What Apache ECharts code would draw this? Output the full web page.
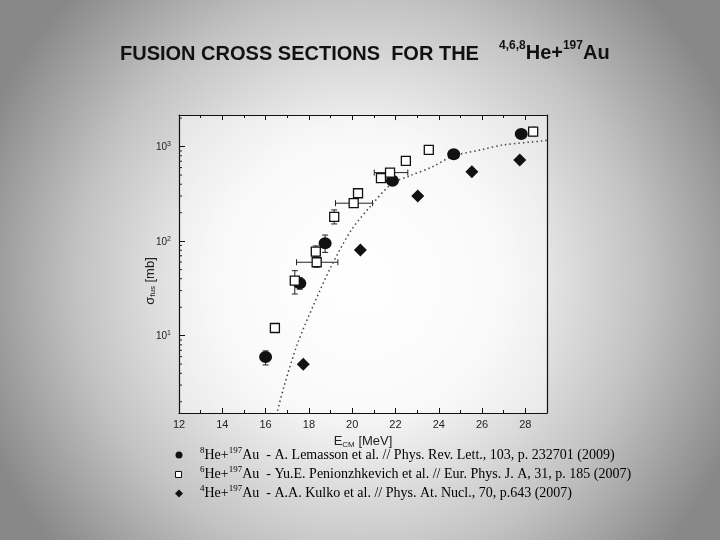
<!DOCTYPE html>
<html><head><meta charset="utf-8">
<script src="https://cdn.jsdelivr.net/npm/echarts@6/dist/echarts.min.js"></script>
<style>html,body{margin:0;padding:0;}#c{width:720px;height:540px;}</style>
</head><body><div id="c"></div>
<script>
// ---- data ----
const xTickLabels = [12, 14, 16, 18, 20, 22, 24, 26, 28];
const yTickLabels = [10, 100, 1000];
const yMinorTicks = [2,3,4,5,6,7,8,9,20,30,40,50,60,70,80,90,200,300,400,500,600,700,800,900,2000];
// 8He + 197Au (Lemasson)
const he8 = [[16.0,5.95],[17.58,35.8],[18.75,95],[21.86,436],[24.69,831],[27.81,1362]];
const he8ErrY = [[16.0,4.9,6.9],[17.58,31,41],[18.75,76,116],[21.86,400,475],[24.69,790,880],[27.81,1280,1450]];
// 6He + 197Au (Penionzhkevich)
const he6 = [[16.43,12.05],[17.35,38.2],[18.36,59.8],[18.32,77.4],[19.17,181],[20.07,252],[20.27,321],[21.33,464],[21.75,531],[22.48,707],[23.54,923],[28.36,1443]];
const he6ErrY = [[17.35,27.6,48.7],[18.36,53,66],[18.32,69,89],[19.17,152,214],[28.36,1300,1600]];
const he6ErrX = [[59.8,17.43,19.34],[252,19.23,20.94],[531,21.02,22.57]];
// 4He + 197Au (Kulko)
const he4 = [[17.74,4.98],[20.38,80.8],[23.03,300],[25.53,543],[27.74,723]];
// theoretical curve (dotted)
const theory = [[16.45,1.3],[16.85,2.9],[17.48,8.3],[18.25,22],[19.03,54],[19.96,131],[20.89,240],[21.83,405],[22.7,495],[23.7,610],[24.63,790],[26.0,930],[26.96,1040],[28.82,1150],[29.0,1165]];

const xMin = 12, xMax = 29, yMin = 1.52, yMax = 2160;

const chart = echarts.init(document.getElementById('c'));

function vErr(params, api) {
  const x = api.value(0), lo = api.value(1), hi = api.value(2);
  const p1 = api.coord([x, lo]), p2 = api.coord([x, hi]);
  const c = 3, st = {stroke:'#222', lineWidth:1};
  return {type:'group', children:[
    {type:'line', shape:{x1:p1[0],y1:p1[1],x2:p2[0],y2:p2[1]}, style:st},
    {type:'line', shape:{x1:p1[0]-c,y1:p1[1],x2:p1[0]+c,y2:p1[1]}, style:st},
    {type:'line', shape:{x1:p2[0]-c,y1:p2[1],x2:p2[0]+c,y2:p2[1]}, style:st}
  ]};
}
function hErr(params, api) {
  const y = api.value(0), lo = api.value(1), hi = api.value(2);
  const p1 = api.coord([lo, y]), p2 = api.coord([hi, y]);
  const c = 3, st = {stroke:'#222', lineWidth:1};
  return {type:'group', children:[
    {type:'line', shape:{x1:p1[0],y1:p1[1],x2:p2[0],y2:p2[1]}, style:st},
    {type:'line', shape:{x1:p1[0],y1:p1[1]-c,x2:p1[0],y2:p1[1]+c}, style:st},
    {type:'line', shape:{x1:p2[0],y1:p2[1]-c,x2:p2[0],y2:p2[1]+c}, style:st}
  ]};
}
function minorTick(params, api) {
  const p = api.coord([api.value(0), api.value(1)]);
  return {type:'line', shape:{x1:p[0],y1:p[1],x2:p[0]+3,y2:p[1]}, style:{stroke:'#222', lineWidth:1}};
}

const legendRich = {
  t:{fontFamily:'Liberation Serif', fontSize:14, color:'#111', verticalAlign:'bottom', lineHeight:16},
  s:{fontFamily:'Liberation Serif', fontSize:9, color:'#111', verticalAlign:'top', lineHeight:9}
};

const option = {
  backgroundColor: {
    type:'radial', x:0.5, y:0.52, r:0.75,
    colorStops:[{offset:0,color:'#ffffff'},{offset:0.35,color:'#f4f4f4'},{offset:0.7,color:'#c2c2c2'},{offset:1,color:'#888888'}]
  },
  animation:false,
  grid:{left:179, right:173, top:115, bottom:127, show:true, backgroundColor:'rgba(255,255,255,0.45)', borderWidth:0},
  xAxis:[{
    type:'value', min:xMin, max:xMax, interval:2,
    axisLine:{lineStyle:{color:'#111', width:1.2}},
    axisTick:{inside:true, length:5, lineStyle:{color:'#111'}},
    minorTick:{show:true, splitNumber:2, length:3, lineStyle:{color:'#111'}},
    splitLine:{show:false},
    axisLabel:{color:'#222', fontFamily:'Liberation Sans', fontSize:11, margin:6, showMaxLabel:false,
      formatter: v => xTickLabels.includes(v) ? String(v) : ''},
    name:'E{s|CM} [MeV]', nameLocation:'middle', nameGap:16,
    nameTextStyle:{color:'#222', fontFamily:'Liberation Sans', fontSize:13,
      rich:{s:{fontSize:8, verticalAlign:'bottom', lineHeight:14, color:'#222'}}}
  },{
    type:'value', position:'top', min:xMin, max:xMax, interval:2,
    axisLine:{lineStyle:{color:'#111', width:1.2}},
    axisTick:{inside:true, length:5, lineStyle:{color:'#111'}},
    minorTick:{show:true, splitNumber:2, length:3, lineStyle:{color:'#111'}},
    splitLine:{show:false}, axisLabel:{show:false}
  }],
  yAxis:[{
    type:'log', logBase:10, min:yMin, max:yMax,
    axisLine:{show:true, lineStyle:{color:'#111', width:1.2}},
    axisTick:{inside:true, length:6, lineStyle:{color:'#111'}},
    splitLine:{show:false},
    axisLabel:{color:'#222', fontFamily:'Liberation Sans', fontSize:10, margin:8, showMinLabel:false, showMaxLabel:false,
      formatter: v => {
        const e = Math.round(Math.log10(v));
        return yTickLabels.some(t => Math.abs(t - v) / t < 1e-6) ? '{b|10}{s|' + e + '}' : '';
      },
      rich:{b:{fontSize:10, verticalAlign:'bottom', lineHeight:12, color:'#222'}, s:{fontSize:7, verticalAlign:'top', lineHeight:7, color:'#222'}}}
  },{
    type:'log', logBase:10, min:yMin, max:yMax, position:'right',
    axisLine:{show:true, lineStyle:{color:'#111', width:1.2}},
    axisTick:{show:false}, axisLabel:{show:false}, splitLine:{show:false}
  }],
  series:[
    {type:'line', data:theory, showSymbol:false, symbol:'none', smooth:0.3, silent:true,
      lineStyle:{color:'#444', width:1.5, type:[1.5,3]}},
    {type:'custom', renderItem:minorTick, data:yMinorTicks.map(v => [xMin, v]), encode:{x:0, y:1}, silent:true, clip:false},
    {type:'custom', renderItem:vErr, data:he8ErrY, encode:{x:0, y:[1,2]}, silent:true, z:3},
    {type:'custom', renderItem:vErr, data:he6ErrY, encode:{x:0, y:[1,2]}, silent:true, z:3},
    {type:'custom', renderItem:hErr, data:he6ErrX, encode:{y:0, x:[1,2]}, silent:true, z:3},
    {name:'8He', type:'scatter', data:he8, symbol:'circle', symbolSize:[13,12], itemStyle:{color:'#111', opacity:1}, z:5},
    {name:'6He', type:'scatter', data:he6, symbol:'rect', symbolSize:9, itemStyle:{color:'#fff', borderColor:'#111', borderWidth:1.3, opacity:1}, z:5},
    {name:'4He', type:'scatter', data:he4, symbol:'diamond', symbolSize:[13,13], itemStyle:{color:'#111', opacity:1}, z:5}
  ],
  graphic:[
    {type:'text', left:120, top:44, style:{text:'FUSION CROSS SECTIONS  FOR THE', font:'bold 20px "Liberation Sans"', fill:'#111'}},
    {type:'text', left:499, top:40, style:{text:'{s|4,6,8}{b|He+}{s|197}{b|Au}', fill:'#111',
      rich:{b:{font:'bold 20px "Liberation Sans"', verticalAlign:'bottom', lineHeight:23, fill:'#111'},
            s:{font:'bold 12px "Liberation Sans"', verticalAlign:'top', lineHeight:12, fill:'#111'}}}},
    {type:'text', x:150, y:281, rotation:Math.PI/2, style:{text:'σ{s|fus} [mb]', align:'center', verticalAlign:'middle',
      font:'13px "Liberation Sans"', fill:'#222', rich:{s:{fontSize:8, verticalAlign:'bottom', lineHeight:14}}}},
    {type:'circle', shape:{cx:179, cy:455, r:3.5}, style:{fill:'#111'}},
    {type:'rect', shape:{x:175.5, y:471.5, width:6, height:6}, style:{fill:'#fff', stroke:'#111', lineWidth:1}},
    {type:'polygon', shape:{points:[[179,489.5],[183,493.5],[179,497.5],[175,493.5]]}, style:{fill:'#111'}},
    {type:'text', left:200, top:446, style:{text:'{s|8}{t|He+}{s|197}{t|Au  - A. Lemasson et al. // Phys. Rev. Lett., 103, p. 232701 (2009)}', rich:legendRich}},
    {type:'text', left:200, top:465, style:{text:'{s|6}{t|He+}{s|197}{t|Au  - Yu.E. Penionzhkevich et al. // Eur. Phys. J. A, 31, p. 185 (2007)}', rich:legendRich}},
    {type:'text', left:200, top:484, style:{text:'{s|4}{t|He+}{s|197}{t|Au  - A.A. Kulko et al. // Phys. At. Nucl., 70, p.643 (2007)}', rich:legendRich}}
  ]
};
chart.setOption(option);
</script>
</body></html>
